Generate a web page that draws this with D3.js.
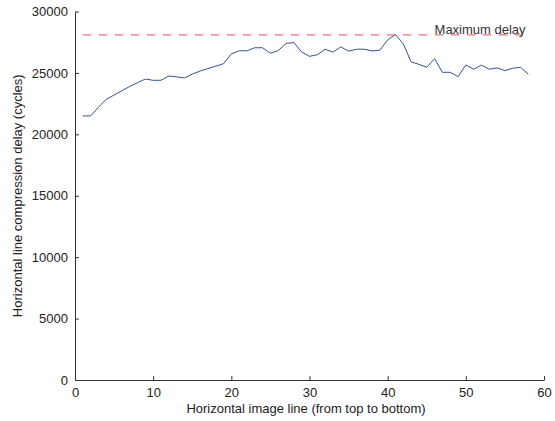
<!DOCTYPE html>
<html>
<head>
<meta charset="utf-8">
<script src="https://cdn.jsdelivr.net/npm/d3@7"></script>
<style>
  body { margin: 0; background: #fff; }
  svg { display: block; font-family: "Liberation Sans", Arial, sans-serif; }
</style>
</head>
<body>
<svg id="chart" width="555" height="421"></svg>
<script>
// image line index (1..58)
const lines = d3.range(1, 59);
// compression delay per line, cycles
const delays = [
  21500, 21500, 22200, 22850, 23200, 23550, 23900, 24200, 24500, 24400,
  24400, 24750, 24680, 24590, 24900, 25150, 25350, 25550, 25750, 26550,
  26800, 26800, 27050, 27050, 26600, 26820, 27400, 27470, 26700, 26350,
  26480, 26930, 26690, 27120, 26770, 26930, 26930, 26790, 26850, 27690,
  28130, 27360, 25900, 25700, 25460, 26160, 25050, 25050, 24700, 25650,
  25300, 25630, 25300, 25410, 25190, 25380, 25460, 24890
];
const maxDelay = 28100;
const xTicks = [0, 10, 20, 30, 40, 50, 60];
const yTicks = [0, 5000, 10000, 15000, 20000, 25000, 30000];

const margin = {top: 11.5, right: 11, bottom: 41, left: 75};
const width = 555 - margin.left - margin.right;
const height = 421 - margin.top - margin.bottom;

const svg = d3.select('#chart');
const g = svg.append('g')
  .attr('transform', 'translate(' + margin.left + ',' + margin.top + ')');

const x = d3.scaleLinear().domain([0, 60]).range([0, width]);
const y = d3.scaleLinear().domain([0, 30000]).range([height, 0]);

// axes, ticks pointing inward
const xAxis = g.append('g')
  .attr('transform', 'translate(0,' + height + ')')
  .call(d3.axisBottom(x).tickValues(xTicks).tickFormat(d3.format('d'))
    .tickSizeInner(-4).tickSizeOuter(0).tickPadding(8));
const yAxis = g.append('g')
  .call(d3.axisLeft(y).tickValues(yTicks).tickFormat(d3.format('d'))
    .tickSizeInner(-4).tickSizeOuter(0).tickPadding(7));

[xAxis, yAxis].forEach(function(a) {
  a.select('.domain').attr('stroke', '#333');
  a.selectAll('.tick line').attr('stroke', '#333');
  a.selectAll('.tick text')
    .attr('fill', '#222')
    .style('font-size', '13px')
    .style('font-family', '"Liberation Sans", Arial, sans-serif');
});

// max delay reference
g.append('line')
  .attr('x1', x(1)).attr('x2', x(58))
  .attr('y1', y(maxDelay)).attr('y2', y(maxDelay))
  .attr('stroke', '#e8786c')
  .attr('stroke-width', 1.2)
  .attr('stroke-dasharray', '8.5,7.5');

g.append('text')
  .attr('x', x(46.0))
  .attr('y', y(maxDelay) - 1)
  .attr('fill', '#333')
  .style('font-size', '13px')
  .text('Maximum delay');

// the measured delay line
const line = d3.line()
  .x(function(d, i) { return x(lines[i]); })
  .y(function(d) { return y(d); });

g.append('path')
  .datum(delays)
  .attr('fill', 'none')
  .attr('stroke', '#3450a8')
  .attr('stroke-width', 1)
  .attr('d', line);

// axis titles
svg.append('text')
  .attr('x', 306)
  .attr('y', 413)
  .attr('text-anchor', 'middle')
  .attr('fill', '#222')
  .style('font-size', '13px')
  .text('Horizontal image line (from top to bottom)');

svg.append('text')
  .attr('transform', 'translate(22,' + (margin.top + height / 2) + ') rotate(-90)')
  .attr('text-anchor', 'middle')
  .attr('fill', '#222')
  .style('font-size', '13px')
  .text('Horizontal line compression delay (cycles)');
</script>
</body>
</html>
